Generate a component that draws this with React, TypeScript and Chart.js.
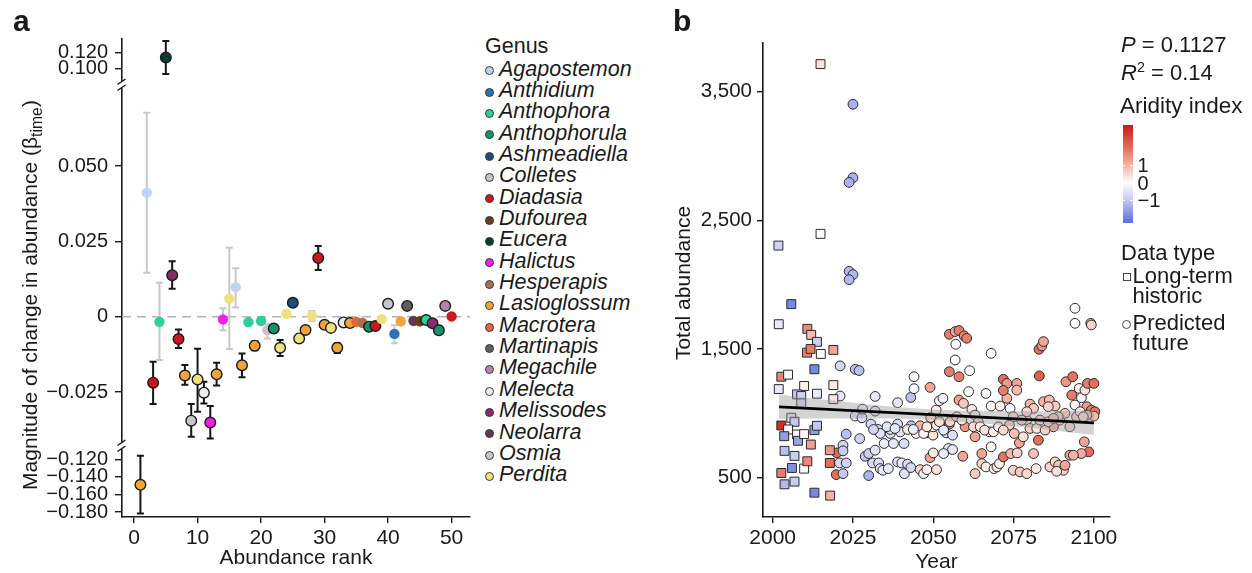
import React, { useEffect, useRef } from "react";
import { Chart, registerables } from "chart.js";

Chart.register(...registerables);

const FONT = "'Liberation Sans', Arimo, Arial, Helvetica, sans-serif";
const INK = "#1a1a1a";
Chart.defaults.font.family = FONT;

// ---------------- Panel a data ----------------
const genera = [
  "Agapostemon", "Anthidium", "Anthophora", "Anthophorula", "Ashmeadiella",
  "Colletes", "Diadasia", "Dufourea", "Eucera", "Halictus",
  "Hesperapis", "Lasioglossum", "Macrotera", "Martinapis", "Megachile",
  "Melecta", "Melissodes", "Neolarra", "Osmia", "Perdita",
];
const genusColors = [
  "#bcd6f2", "#2e6fb7", "#2ecf98", "#16926a", "#1e4d7b",
  "#cdbfd0", "#c8191f", "#6a3c18", "#0b3a35", "#ef20e8",
  "#a86f50", "#f0a53c", "#e3693d", "#5f5f5f", "#b584ae",
  "#ececec", "#8a2b6f", "#5b3a52", "#c7c7cb", "#ede27c",
];

const abundanceRank = [
  1, 2, 3, 4, 5, 6, 7, 8, 9, 10, 11, 12, 13, 14, 15, 16, 17, 18, 19, 20, 21, 22, 23, 24, 25,
  26, 27, 28, 29, 30, 31, 32, 33, 34, 35, 36, 37, 38, 39, 40, 41, 42, 43, 44, 45, 46, 47, 48, 49, 50,
];
const rankGenus = [
  "Lasioglossum", "Agapostemon", "Diadasia", "Anthophora", "Eucera", "Melissodes", "Diadasia", "Lasioglossum", "Osmia", "Perdita",
  "Melecta", "Halictus", "Lasioglossum", "Halictus", "Perdita", "Agapostemon", "Lasioglossum", "Anthophora", "Lasioglossum", "Anthophora",
  "Colletes", "Anthophorula", "Perdita", "Perdita", "Ashmeadiella", "Perdita", "Lasioglossum", "Perdita", "Diadasia", "Lasioglossum",
  "Perdita", "Lasioglossum", "Melecta", "Lasioglossum", "Macrotera", "Hesperapis", "Anthophorula", "Diadasia", "Perdita", "Osmia",
  "Anthidium", "Lasioglossum", "Martinapis", "Neolarra", "Dufourea", "Anthophora", "Melissodes", "Anthophorula", "Megachile", "Diadasia",
];
const betaTime = [
  -0.149, 0.0412, -0.0219, -0.0017, 0.114, 0.0138, -0.0074, -0.0195, -0.0345, -0.0208,
  -0.0252, -0.0351, -0.0191, -0.0009, 0.006, 0.0098, -0.0161, -0.0018, -0.0096, -0.0014,
  -0.0044, -0.0039, -0.0103, 0.001, 0.0046, -0.0072, -0.0044, 0.0003, 0.0195, -0.0027,
  -0.0037, -0.0103, -0.0019, -0.0021, -0.0017, -0.0021, -0.0033, -0.0031, -0.0008, 0.0043,
  -0.0057, -0.0015, 0.0036, -0.0014, -0.0015, -0.0011, -0.0022, -0.0045, 0.0036, 0.0001,
];
const betaLow = [
  -0.1817, 0.0146, -0.029, -0.0144, 0.0927, 0.0093, -0.0104, -0.0226, -0.0398, -0.0315,
  -0.0288, -0.0404, -0.0228, -0.0045, -0.0107, 0.0031, -0.0201, -0.0028, -0.0111, -0.0024,
  -0.0072, -0.0049, -0.013, 0.0, 0.0036, -0.0082, -0.0054, -0.0014, 0.0155, -0.0037,
  -0.0047, -0.012, -0.0029, -0.0031, -0.0025, -0.0029, -0.0043, -0.0041, -0.0016, 0.0033,
  -0.0088, -0.0023, 0.0026, -0.0022, -0.0023, -0.0021, -0.0032, -0.0055, 0.0026, -0.0007,
];
const betaHigh = [
  -0.1159, 0.0677, -0.0149, 0.0113, 0.135, 0.0184, -0.0042, -0.016, -0.029, -0.0106,
  -0.0216, -0.0296, -0.0153, 0.0028, 0.0229, 0.0161, -0.0122, -0.0008, -0.0081, -0.0004,
  -0.0024, -0.0029, -0.0077, 0.002, 0.0056, -0.0062, -0.0034, 0.0019, 0.0235, -0.0017,
  -0.0027, -0.0088, -0.0009, -0.0011, -0.0009, -0.0013, -0.0023, -0.0021, 0.0, 0.0053,
  -0.0028, -0.0007, 0.0046, -0.0006, -0.0007, -0.0001, -0.0012, -0.0035, 0.0046, 0.0009,
];
const isSignificant = [
  1, 0, 1, 0, 1, 1, 1, 1, 1, 1,
  1, 1, 1, 0, 0, 0, 1, 0, 1, 0,
  0, 1, 1, 0, 1, 1, 1, 0, 1, 1,
  1, 1, 1, 1, 0, 0, 1, 1, 0, 1,
  0, 0, 1, 0, 0, 1, 1, 1, 1, 0,
];
const rankTicks = [0, 10, 20, 30, 40, 50];
const betaTicksTop = [0.1, 0.12];
const betaTicksMid = [-0.025, 0, 0.025, 0.05];
const betaTicksBottom = [-0.18, -0.16, -0.14, -0.12];

// ---------------- Panel b data ----------------
const histYear = [
  2001.9, 2005.8, 2010.8, 2012.0, 2013.8, 2010.7, 2011.8, 2015.0, 2018.9, 2013.0,
  2002.7, 2004.8, 2001.9, 2009.8, 2013.8, 2018.9, 2018.9, 2007.6, 2008.9, 2008.9,
  2002.7, 2005.8, 2006.8, 2004.8, 2003.6, 2007.6, 2007.9, 2009.8, 2013.0, 2013.8,
  2011.9, 2003.7, 2006.8, 2002.7, 2006.0, 2009.8, 2010.8, 2003.7, 2006.8, 2013.0,
  2017.9, 2017.8, 2017.8, 2014.9, 2014.9, 2001.8,
];
const histAbundance = [
  1692, 1848, 1656, 1609, 1555, 1471, 1500, 1461, 1492, 1342,
  1284, 1300, 1188, 1212, 1152, 1219, 1110, 1147, 1134, 1077,
  905, 965, 934, 874, 822, 835, 786, 838, 869, 903,
  757, 708, 669, 536, 575, 570, 627, 448, 469, 383,
  360, 713, 614, 3713, 2394, 2303,
];
const histAridity = [
  -0.4, -1.9, 1.6, 0.9, -0.9, 1.7, 1.8, 0.05, 1.2, -1.9,
  1.7, -0.2, -0.4, 0.2, -0.4, 0.3, 0.3, -1.0, -0.8, -0.6,
  3.0, -0.4, -1.0, -0.1, -1.6, 0.0, -1.5, 0.1, -1.6, -1.0,
  1.3, -1.1, -0.9, 1.8, -1.8, 0.0, 1.6, -1.2, -0.9, -1.9,
  1.0, 1.4, 2.0, 0.4, 0.0, -0.8,
];

const futureYear = [
  2025.0, 2025.0, 2023.8, 2023.8, 2025.0, 2023.8, 2025.7, 2026.9, 2021.0, 2021.0,
  2020.0, 2019.8, 2021.9, 2020.8, 2022.9, 2021.9, 2022.9, 2021.9, 2025.7, 2027.8,
  2027.1, 2028.8, 2029.9, 2029.9, 2031.1, 2031.9, 2028.0, 2031.9, 2030.6, 2031.9,
  2033.0, 2033.5, 2034.3, 2036.0, 2032.8, 2033.5, 2034.7, 2036.6, 2037.6, 2038.9,
  2036.6, 2038.9, 2039.7, 2040.9, 2041.0, 2038.9, 2040.2, 2042.0, 2043.0, 2043.1,
  2042.0, 2043.0, 2044.0, 2044.0, 2044.7, 2045.9, 2045.9, 2047.0, 2048.0, 2049.0,
  2047.8, 2049.9, 2050.0, 2049.2, 2050.9, 2051.9, 2053.0, 2051.0, 2049.0, 2054.0,
  2054.7, 2056.0, 2056.0, 2053.2, 2055.0, 2056.8, 2058.0, 2059.6, 2060.4, 2057.0,
  2056.8, 2055.0, 2058.0, 2061.3, 2058.0, 2059.4, 2061.0, 2055.0, 2059.9, 2059.2,
  2062.0, 2063.0, 2064.0, 2063.0, 2065.1, 2065.1, 2063.0, 2066.4, 2068.0, 2068.0,
  2067.5, 2068.0, 2066.4, 2068.9, 2069.8, 2070.6, 2070.8, 2071.8, 2072.9, 2072.9,
  2071.8, 2076.0, 2076.0, 2073.9, 2074.9, 2073.7, 2075.2, 2076.8, 2071.8, 2074.1,
  2076.1, 2074.9, 2077.0, 2079.1, 2078.0, 2079.1, 2080.1, 2081.2, 2080.1, 2081.2,
  2082.0, 2082.7, 2083.0, 2082.9, 2083.8, 2084.3, 2082.2, 2084.3, 2086.1, 2087.9,
  2085.8, 2087.4, 2086.3, 2087.9, 2089.0, 2090.5, 2088.4, 2091.0, 2089.4, 2091.0,
  2091.3, 2093.4, 2093.1, 2094.1, 2094.1, 2095.4, 2096.1, 2094.1, 2097.2, 2098.0,
  2100.0, 2099.0, 2099.2, 2097.8, 2099.2, 2100.3, 2100.0, 2097.8, 2097.0, 2098.4,
  2096.1, 2092.5, 2093.6, 2092.5, 2088.9, 2094.6, 2031.4, 2035.6, 2038.1, 2043.8,
  2047.0, 2048.0, 2051.0, 2053.2, 2051.9, 2055.2, 2057.3, 2058.9, 2062.5, 2064.6,
  2066.0, 2068.7, 2070.3, 2071.8, 2077.5, 2079.1, 2083.2, 2084.8, 2085.8, 2087.4,
  2095.7, 2096.7, 2050.0,
];
const futureAbundance = [
  3401, 2830, 2794, 2103, 2077, 2038, 1342, 1332, 1368, 1134,
  692, 523, 531, 614, 614, 752, 838, 708, 978, 965,
  803, 666, 687, 516, 614, 1131, 1032, 1017, 916, 713,
  614, 570, 557, 570, 874, 843, 765, 843, 765, 1082,
  874, 916, 855, 765, 531, 622, 614, 604, 578, 903,
  874, 1123, 1284, 1191, 843, 903, 562, 531, 562, 1201,
  848, 830, 895, 967, 1025, 1097, 1116, 562, 656, 848,
  726, 718, 830, 687, 1614, 1635, 1643, 1601, 1583, 1536,
  1414, 1323, 1284, 1331, 1103, 1077, 1168, 916, 895, 666,
  1030, 986, 934, 817, 687, 609, 531, 1154, 1466, 1056,
  856, 739, 583, 570, 583, 609, 1056, 1264, 1232, 1116,
  1177, 1232, 1180, 1038, 973, 908, 843, 770, 661, 687,
  692, 557, 544, 531, 817, 947, 1071, 1038, 882, 687,
  570, 791, 1290, 1497, 1523, 1557, 882, 1090, 1103, 1056,
  1051, 895, 583, 622, 596, 557, 549, 596, 947, 999,
  1245, 1284, 1141, 1816, 1699, 1193, 1121, 1064, 1180, 1232,
  1232, 1699, 1686, 1051, 1025, 1012, 978, 986, 778, 700,
  687, 674, 674, 895, 973, 973, 874, 895, 882, 874,
  843, 895, 908, 869, 934, 934, 973, 947, 895, 895,
  869, 856, 895, 869, 947, 1012, 947, 869, 934, 960,
  1012, 973, 692,
];
const futureAridity = [
  -1.3, -1.3, -1.3, -1.2, -1.2, -1.2, -1.1, -1.1, -0.7, -0.4,
  2.0, 2.0, -1.0, -0.7, -0.8, -0.8, -1.1, -0.9, -0.5, -0.6,
  -0.8, -1.0, -0.9, -1.3, -0.7, -0.4, -0.2, -0.3, -0.7, -0.5,
  -0.6, -0.5, -0.4, -0.4, -0.6, -0.5, -0.3, -0.5, -0.4, -0.4,
  -0.5, -0.6, -0.5, -0.6, -0.5, -0.5, -0.4, -0.6, -0.7, -1.1,
  0.3, -1.1, -0.1, -0.1, 0.1, 1.0, 0.6, -0.2, 0.2, 1.2,
  -0.2, 0.4, 0.2, 0.5, 0.2, -0.2, -0.3, 0.4, 1.2, -0.6,
  -0.5, -0.4, -0.6, -0.3, 1.8, 1.2, 1.8, 1.6, 1.8, 0.0,
  0.0, 1.8, 1.8, 0.0, 1.3, 0.7, 0.0, 1.8, 1.4, 1.2,
  0.3, 0.2, 0.5, 1.2, 1.2, 0.6, 0.7, -0.1, 0.0, 0.1,
  0.2, 0.1, 0.2, 0.1, 0.3, 0.2, 0.1, 2.0, 1.4, 1.0,
  1.8, 1.2, 0.9, -0.1, 0.4, 0.6, 0.8, 1.2, 1.9, 0.9,
  0.6, 0.6, 0.7, 0.5, 0.4, 0.5, 1.0, 0.7, 0.6, 0.8,
  0.3, 2.0, 2.2, 2.0, 1.4, 1.2, 0.3, 1.0, 0.9, 0.7,
  0.6, 1.0, 0.6, 0.5, 0.8, 0.6, 0.4, 1.2, 0.3, 0.6,
  1.4, 1.9, 1.8, 0.0, 0.0, 0.2, -0.2, 0.1, 0.4, 1.8,
  2.0, 1.0, 0.6, 1.3, 1.8, 1.9, 0.9, 0.8, 1.2, 2.0,
  1.1, 1.3, 1.0, 0.4, 0.6, 0.5, -0.7, -0.5, -0.4, -0.3,
  0.1, 0.3, 0.2, -0.4, 0.4, 0.6, 0.4, 0.3, 0.5, 0.3,
  0.4, 0.2, 0.3, 0.5, 0.6, 0.5, 0.4, 0.6, 0.5, 0.7,
  0.3, 0.4, 0.3,
];

const regYear = [2002, 2100];
const regAbundance = [1050, 926];
const bandYear = [2002, 2015, 2030, 2040, 2050, 2065, 2080, 2090, 2100];
const bandUpper = [1145, 1108, 1069, 1046, 1029, 1017, 1016, 1018, 1021];
const bandLower = [955, 959, 960, 958, 949, 923, 887, 859, 831];
const yearTicks = [2000, 2025, 2050, 2075, 2100];
const abundanceTicks = [500, 1500, 2500, 3500];
const aridityLegendTicks = [1, 0, -1];

// ---------------- colour scale (styles) ----------------
const aridityStops = [-2.3, -1.6, -1, 0, 1, 2.2, 3.3];
const aridityStopRGB = [
  [90, 110, 224], [143, 156, 233], [195, 200, 242], [255, 255, 255],
  [245, 179, 163], [224, 96, 76], [200, 27, 27],
];
function aridityColor(v: number): string {
  const lo = aridityStops[0];
  const hi = aridityStops[aridityStops.length - 1];
  const c = Math.max(lo, Math.min(hi, v));
  for (let i = 0; i < aridityStops.length - 1; i++) {
    const a = aridityStops[i], b = aridityStops[i + 1];
    if (c >= a && c <= b) {
      const t = (c - a) / (b - a);
      const p = aridityStopRGB[i], q = aridityStopRGB[i + 1];
      const r = Math.round(p[0] + (q[0] - p[0]) * t);
      const g = Math.round(p[1] + (q[1] - p[1]) * t);
      const bl = Math.round(p[2] + (q[2] - p[2]) * t);
      return `rgb(${r},${g},${bl})`;
    }
  }
  return "#fff";
}
function aridityGradient(): string {
  const span = aridityStops[aridityStops.length - 1] - aridityStops[0];
  const parts = aridityStops
    .map((s, i) => {
      const pct = ((aridityStops[aridityStops.length - 1] - s) / span) * 100;
      const c = aridityStopRGB[i];
      return `rgb(${c[0]},${c[1]},${c[2]}) ${pct.toFixed(1)}%`;
    })
    .reverse();
  return `linear-gradient(to bottom, ${parts.join(", ")})`;
}

function fmtBeta(v: number): string {
  if (Math.abs(v) < 1e-9) return "0";
  return (v < 0 ? "\u2212" : "") + Math.abs(v).toFixed(3);
}

// ---------------- plugins ----------------
const errorBarPlugin = {
  id: "errorBars",
  beforeDatasetDraw(chart: any, args: any) {
    const ds = chart.data.datasets[args.index];
    if (!ds.errorBars) return;
    const ctx = chart.ctx;
    const xs = chart.scales.x;
    const ys = chart.scales[ds.yAxisID];
    ctx.save();
    ctx.lineWidth = 2;
    ds.data.forEach((p: any) => {
      const x = xs.getPixelForValue(p.x);
      const y1 = ys.getPixelForValue(p.lo);
      const y2 = ys.getPixelForValue(p.hi);
      ctx.strokeStyle = p.sig ? "#161616" : "#c8c8c8";
      ctx.beginPath();
      ctx.moveTo(x, y1);
      ctx.lineTo(x, y2);
      ctx.moveTo(x - 3.5, y1);
      ctx.lineTo(x + 3.5, y1);
      ctx.moveTo(x - 3.5, y2);
      ctx.lineTo(x + 3.5, y2);
      ctx.stroke();
    });
    ctx.restore();
  },
};

const axisBreakPlugin = {
  id: "axisBreaks",
  afterDraw(chart: any) {
    const ctx = chart.ctx;
    const x = chart.scales.yMid.right;
    [chart.scales.yTop.bottom, chart.scales.yMid.bottom].forEach((yb: number) => {
      ctx.save();
      ctx.fillStyle = "#fff";
      ctx.fillRect(x - 3, yb - 3, 6, 6);
      ctx.strokeStyle = INK;
      ctx.lineWidth = 1.5;
      ctx.beginPath();
      ctx.moveTo(x - 4.5, yb - 0.5);
      ctx.lineTo(x + 3.5, yb - 6);
      ctx.moveTo(x - 4.5, yb + 5.5);
      ctx.lineTo(x + 3.5, yb);
      ctx.stroke();
      ctx.restore();
    });
  },
};

// ---------------- configs ----------------
function segOf(v: number): string {
  if (v > 0.08) return "yTop";
  if (v < -0.1) return "yBot";
  return "yMid";
}

function buildConfigA(): any {
  const pts = abundanceRank.map((r, i) => ({
    x: r,
    y: betaTime[i],
    lo: betaLow[i],
    hi: betaHigh[i],
    sig: isSignificant[i] === 1,
    g: rankGenus[i],
  }));
  const pointSets = ["yTop", "yMid", "yBot"].map((seg) => {
    const d = pts.filter((p) => segOf(p.y) === seg);
    return {
      type: "scatter",
      data: d,
      yAxisID: seg,
      xAxisID: "x",
      errorBars: true,
      pointBackgroundColor: d.map((p) => genusColors[genera.indexOf(p.g)]),
      pointBorderColor: d.map((p) => (p.sig ? "#1b1b1b" : "rgba(0,0,0,0)")),
      pointBorderWidth: d.map((p) => (p.sig ? 1.4 : 0)),
      pointRadius: d.map((p) => (p.sig ? 5.3 : 5.2)),
      clip: false,
      order: 1,
    };
  });
  const zeroLine = {
    type: "line",
    data: [{ x: -1.9, y: 0 }, { x: 52.9, y: 0 }],
    yAxisID: "yMid",
    xAxisID: "x",
    borderColor: "#b3b3b3",
    borderDash: [9, 6],
    borderWidth: 1.6,
    pointRadius: 0,
    showLine: true,
    fill: false,
    order: 5,
  };

  const yAxis = (min: number, max: number, ticks: number[], weight: number, stackWeight: number) => ({
    type: "linear",
    position: "left",
    stack: "beta",
    stackWeight,
    weight,
    min,
    max,
    border: { color: INK, width: 1.6 },
    grid: { drawOnChartArea: false, drawTicks: true, tickLength: 7, color: INK, lineWidth: 1.4 },
    ticks: {
      color: INK,
      font: { family: FONT, size: 20 },
      padding: 7,
      autoSkip: false,
      callback: (v: any) => fmtBeta(Number(v)),
    },
    afterBuildTicks: (s: any) => {
      s.ticks = ticks.map((v) => ({ value: v }));
    },
    afterFit: (s: any) => {
      s.width = 122;
    },
  });

  return {
    type: "scatter",
    data: { datasets: [...pointSets, zeroLine] },
    options: {
      animation: false,
      responsive: false,
      events: [],
      layout: { padding: { left: 0, top: 39, right: 10, bottom: 0 } },
      plugins: { legend: { display: false }, tooltip: { enabled: false } },
      scales: {
        x: {
          type: "linear",
          position: "bottom",
          min: -1.9,
          max: 52.9,
          border: { color: INK, width: 1.6 },
          grid: { drawOnChartArea: false, tickLength: 6, color: INK, lineWidth: 1.4 },
          ticks: { color: INK, font: { family: FONT, size: 21 }, padding: 3, autoSkip: false },
          afterBuildTicks: (s: any) => {
            s.ticks = rankTicks.map((v) => ({ value: v }));
          },
          afterFit: (s: any) => {
            s.height = 56;
          },
          title: {
            display: true,
            text: "Abundance rank",
            color: INK,
            font: { family: FONT, size: 21, lineHeight: 1 },
            padding: { top: 0, bottom: 4 },
          },
        },
        yBot: yAxis(-0.1857, -0.1048, betaTicksBottom, 1, 71),
        yMid: yAxis(-0.0429, 0.0769, betaTicksMid, 2, 361),
        yTop: yAxis(0.0787, 0.1375, betaTicksTop, 3, 46),
      },
    },
    plugins: [errorBarPlugin, axisBreakPlugin],
  };
}

function buildConfigB(): any {
  const xy = (xs: number[], ys: number[]) => xs.map((x, i) => ({ x, y: ys[i] }));
  return {
    type: "scatter",
    data: {
      datasets: [
        {
          type: "line",
          data: xy(regYear, regAbundance),
          borderColor: "#000",
          borderWidth: 2.8,
          pointRadius: 0,
          showLine: true,
          fill: false,
          order: 0,
        },
        {
          type: "line",
          data: xy(bandYear, bandUpper),
          borderColor: "rgba(0,0,0,0)",
          borderWidth: 0,
          pointRadius: 0,
          showLine: true,
          fill: false,
          cubicInterpolationMode: "monotone",
          order: 1,
        },
        {
          type: "line",
          data: xy(bandYear, bandLower),
          borderColor: "rgba(0,0,0,0)",
          borderWidth: 0,
          pointRadius: 0,
          showLine: true,
          fill: "-1",
          backgroundColor: "rgba(150,150,150,0.42)",
          cubicInterpolationMode: "monotone",
          order: 1,
        },
        {
          type: "scatter",
          data: xy(histYear, histAbundance),
          pointStyle: "rect",
          pointRadius: 6.3,
          pointBackgroundColor: histAridity.map(aridityColor),
          pointBorderColor: "#2b2b2b",
          pointBorderWidth: 1,
          clip: false,
          order: 2,
        },
        {
          type: "scatter",
          data: xy(futureYear, futureAbundance),
          pointStyle: "circle",
          pointRadius: 4.9,
          pointBackgroundColor: futureAridity.map(aridityColor),
          pointBorderColor: "#2b2b2b",
          pointBorderWidth: 1,
          clip: false,
          order: 3,
        },
      ],
    },
    options: {
      animation: false,
      responsive: false,
      events: [],
      layout: { padding: { left: 0, top: 43, right: 30, bottom: 0 } },
      plugins: { legend: { display: false }, tooltip: { enabled: false } },
      scales: {
        x: {
          type: "linear",
          position: "bottom",
          min: 1997,
          max: 2105,
          border: { color: INK, width: 1.6 },
          grid: { drawOnChartArea: false, tickLength: 6, color: INK, lineWidth: 1.4 },
          ticks: { color: INK, font: { family: FONT, size: 21 }, padding: 3, autoSkip: false, callback: (v: any) => String(v) },
          afterBuildTicks: (s: any) => {
            s.ticks = yearTicks.map((v) => ({ value: v }));
          },
          afterFit: (s: any) => {
            s.height = 56;
          },
          title: {
            display: true,
            text: "Year",
            color: INK,
            font: { family: FONT, size: 21, lineHeight: 1 },
            padding: { top: 0, bottom: 0 },
          },
        },
        y: {
          type: "linear",
          position: "left",
          min: 194,
          max: 3877,
          border: { color: INK, width: 1.6 },
          grid: { drawOnChartArea: false, tickLength: 6, color: INK, lineWidth: 1.4 },
          ticks: {
            color: INK,
            font: { family: FONT, size: 20.5 },
            padding: 5,
            autoSkip: false,
            callback: (v: any) => Number(v).toLocaleString("en-US"),
          },
          afterBuildTicks: (s: any) => {
            s.ticks = abundanceTicks.map((v) => ({ value: v }));
          },
          afterFit: (s: any) => {
            s.width = 103;
          },
        },
      },
    },
  };
}

// ---------------- HTML text helpers ----------------
function Txt(props: { x: number; cy: number; size?: number; style?: React.CSSProperties; children: React.ReactNode }) {
  const size = props.size ?? 21;
  return (
    <div
      style={{
        position: "absolute",
        left: props.x,
        top: props.cy - size / 2,
        fontSize: size,
        lineHeight: `${size}px`,
        whiteSpace: "nowrap",
        ...props.style,
      }}
    >
      {props.children}
    </div>
  );
}

function RotTitle(props: { cx: number; cy: number; children: React.ReactNode }) {
  return (
    <div
      style={{
        position: "absolute",
        left: props.cx,
        top: props.cy,
        transform: "translate(-50%, -50%) rotate(-90deg)",
        fontSize: 21,
        lineHeight: "24px",
        whiteSpace: "nowrap",
      }}
    >
      {props.children}
    </div>
  );
}

export default function App() {
  const refA = useRef<HTMLCanvasElement>(null);
  const refB = useRef<HTMLCanvasElement>(null);

  useEffect(() => {
    const a = new Chart(refA.current as HTMLCanvasElement, buildConfigA());
    const b = new Chart(refB.current as HTMLCanvasElement, buildConfigB());
    return () => {
      a.destroy();
      b.destroy();
    };
  }, []);

  const legendTop = 69.3;
  const legendStep = 21.35;

  return (
    <div
      style={{
        position: "absolute",
        left: 0,
        top: 0,
        width: 1252,
        height: 573,
        overflow: "hidden",
        background: "#fff",
        fontFamily: FONT,
        color: INK,
      }}
    >
      <canvas ref={refA} width={480} height={573} style={{ position: "absolute", left: 0, top: 0, width: 480, height: 573 }} />
      <canvas ref={refB} width={480} height={573} style={{ position: "absolute", left: 660, top: 0, width: 480, height: 573 }} />

      {/* panel letters */}
      <Txt x={13} cy={21} size={30} style={{ fontWeight: "bold" }}>a</Txt>
      <Txt x={673} cy={21} size={30} style={{ fontWeight: "bold" }}>b</Txt>

      {/* y titles */}
      <RotTitle cx={30} cy={295}>
        Magnitude of change in abundance (β
        <sub style={{ fontSize: "0.75em", verticalAlign: "-0.3em", lineHeight: 0 }}>time</sub>)
      </RotTitle>
      <RotTitle cx={683} cy={283}>Total abundance</RotTitle>

      {/* legend a */}
      <Txt x={485} cy={46.7} size={21.5}>Genus</Txt>
      {genera.map((g, i) => {
        const cy = legendTop + legendStep * i;
        return (
          <React.Fragment key={g}>
            <div
              style={{
                position: "absolute",
                left: 489 - 4.5,
                top: cy + 1.5 - 4.5,
                width: 9,
                height: 9,
                borderRadius: "50%",
                boxSizing: "border-box",
                border: "1px solid #3a3a3a",
                background: genusColors[i],
              }}
            />
            <Txt x={499} cy={cy} size={21.5} style={{ fontStyle: "italic" }}>{g}</Txt>
          </React.Fragment>
        );
      })}

      {/* legend b */}
      <Txt x={1121} cy={45} size={22}>
        <i>P</i> = 0.1127
      </Txt>
      <Txt x={1121} cy={73} size={22}>
        <i>R</i>
        <span style={{ fontSize: "0.65em", position: "relative", top: "-0.55em" }}>2</span> = 0.14
      </Txt>
      <Txt x={1120} cy={106} size={22.5}>Aridity index</Txt>
      <div
        style={{
          position: "absolute",
          left: 1122.7,
          top: 125,
          width: 10,
          height: 98,
          background: aridityGradient(),
        }}
      />
      {aridityLegendTicks.map((t) => {
        const span = aridityStops[aridityStops.length - 1] - aridityStops[0];
        const cy = 125 + ((aridityStops[aridityStops.length - 1] - t) / span) * 98;
        return (
          <React.Fragment key={t}>
            <div style={{ position: "absolute", left: 1122.7, top: cy - 0.75, width: 2.5, height: 1.5, background: "#fff" }} />
            <div style={{ position: "absolute", left: 1130.2, top: cy - 0.75, width: 2.5, height: 1.5, background: "#fff" }} />
            <Txt x={1137.5} cy={cy} size={20}>
              {t < 0 ? "\u2212" + Math.abs(t) : String(t)}
            </Txt>
          </React.Fragment>
        );
      })}
      <Txt x={1121} cy={252.7} size={22}>Data type</Txt>
      <div
        style={{
          position: "absolute",
          left: 1126.7 - 4,
          top: 277 - 4,
          width: 8,
          height: 8,
          boxSizing: "border-box",
          border: "1.3px solid #444",
          background: "#fff",
        }}
      />
      <Txt x={1132.5} cy={276} size={22}>Long-term</Txt>
      <Txt x={1132.5} cy={296} size={22}>historic</Txt>
      <div
        style={{
          position: "absolute",
          left: 1126.7 - 4.5,
          top: 324 - 4.5,
          width: 9,
          height: 9,
          boxSizing: "border-box",
          borderRadius: "50%",
          border: "1.3px solid #444",
          background: "#fff",
        }}
      />
      <Txt x={1132.5} cy={323} size={22}>Predicted</Txt>
      <Txt x={1132.5} cy={343} size={22}>future</Txt>
    </div>
  );
}
